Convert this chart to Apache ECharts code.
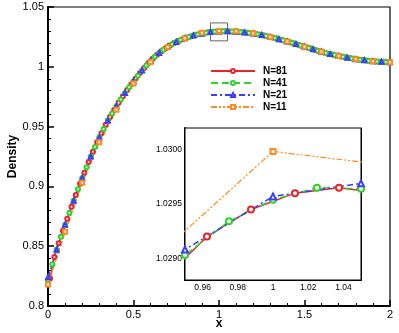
<!DOCTYPE html>
<html>
<head>
<meta charset="utf-8">
<script src="https://cdn.jsdelivr.net/npm/echarts@6/dist/echarts.min.js"></script>
<style>
  html, body { margin: 0; padding: 0; background: #fff; }
  #chart { width: 399px; height: 333px; }
</style>
</head>
<body>
<div id="chart"></div>
<script>
const FONT = 'Liberation Sans, Arial, sans-serif';

const SERIES_NAMES = ['N=81', 'N=41', 'N=21', 'N=11'];
const COLORS = ['#e8252b', '#2ed22e', '#3c3cff', '#ff8a1e'];

// uniform output grids of each run
const X81_START = 0.0125, X81_STEP = 0.025;
const X41_START = 0, X41_STEP = 0.025;
const X21_START = 0, X21_STEP = 0.05;
const X11_START = 0, X11_STEP = 0.1;

const density81 = [
  0.823, 0.841, 0.8525, 0.863, 0.873, 0.883, 0.8928, 0.9023, 0.9115, 0.9205,
  0.929, 0.937, 0.9445, 0.9515, 0.958, 0.964, 0.970, 0.9754, 0.9805, 0.9855,
  0.9903, 0.9948, 0.9991, 1.0031, 1.0067, 1.0100, 1.0129, 1.0156, 1.0179, 1.0199,
  1.0216, 1.0231, 1.0244, 1.0256, 1.0266, 1.0274, 1.0282, 1.0288, 1.0292, 1.02945,
  1.0296, 1.02965, 1.0296, 1.0294, 1.02915, 1.0288, 1.0285, 1.0281, 1.0275, 1.0269,
  1.0261, 1.0253, 1.0245, 1.0236, 1.0226, 1.0216, 1.0206, 1.0195, 1.0185, 1.0174,
  1.0163, 1.0152, 1.0141, 1.0130, 1.0120, 1.0110, 1.0102, 1.0094, 1.0086, 1.0079,
  1.0073, 1.0067, 1.0061, 1.0056, 1.0052, 1.0048, 1.0045, 1.0043, 1.0041, 1.0039
];

const density41 = [
  0.822, 0.835, 0.847, 0.858, 0.868, 0.878, 0.888, 0.8976, 0.907, 0.916,
  0.925, 0.933, 0.941, 0.948, 0.955, 0.961, 0.967, 0.9727, 0.978, 0.983,
  0.988, 0.9926, 0.997, 1.0011, 1.005, 1.0084, 1.0115, 1.0143, 1.0168, 1.0189,
  1.0208, 1.0224, 1.0238, 1.0250, 1.0261, 1.0270, 1.0277, 1.0284, 1.02903, 1.02934,
  1.02954, 1.02965, 1.02964, 1.0295, 1.0293, 1.0290, 1.0287, 1.0283, 1.0278, 1.0272,
  1.0265, 1.0257, 1.0249, 1.0240, 1.0231, 1.0221, 1.0211, 1.0201, 1.0190, 1.0179,
  1.0168, 1.0157, 1.0146, 1.0135, 1.0125, 1.0115, 1.0106, 1.0098, 1.0090, 1.0083,
  1.0076, 1.0070, 1.0064, 1.0059, 1.0054, 1.0050, 1.0047, 1.0044, 1.0042, 1.0040,
  1.0039
];

const density21 = [
  0.824, 0.847, 0.868, 0.888, 0.907, 0.925, 0.941, 0.955, 0.967, 0.978,
  0.988, 0.997, 1.005, 1.0115, 1.0168, 1.0208, 1.0238, 1.0261, 1.0277, 1.02908,
  1.02957, 1.02969, 1.0293, 1.0287, 1.0278, 1.0265, 1.0249, 1.0231, 1.0211, 1.0190,
  1.0168, 1.0146, 1.0125, 1.0106, 1.0090, 1.0076, 1.0064, 1.0054, 1.0047, 1.0042,
  1.0039
];

const density11 = [
  0.818, 0.862, 0.903, 0.937, 0.964, 0.986, 1.004, 1.0165, 1.0238, 1.02852,
  1.029984, 1.02979, 1.0281, 1.0250, 1.0211, 1.0168, 1.0125, 1.0090, 1.0064, 1.0047,
  1.0039
];

// zoom window shown in the inset
const ZOOM_X = [0.95, 1.05];
const ZOOM_BOX_Y = [1.0217, 1.0367];
const INSET_Y = [1.0288, 1.0302];

function pairs(start, step, values) {
  return values.map((v, i) => [+(start + i * step).toFixed(4), v]);
}

const runs = [
  { data: pairs(X81_START, X81_STEP, density81), symbol: 'emptyCircle', dash: 'solid' },
  { data: pairs(X41_START, X41_STEP, density41), symbol: 'emptyCircle', dash: [7, 4] },
  { data: pairs(X21_START, X21_STEP, density21), symbol: 'emptyTriangle', dash: [6, 3, 2, 3] },
  { data: pairs(X11_START, X11_STEP, density11), symbol: 'emptyRect', dash: [6, 2, 2, 2, 2, 2] },
];

const axisText = { color: '#000', fontFamily: FONT };

const series = [];
runs.forEach((r, i) => {
  series.push({
    name: SERIES_NAMES[i],
    type: 'line',
    xAxisIndex: 0,
    yAxisIndex: 0,
    data: r.data,
    symbol: r.symbol,
    symbolSize: 4,
    showAllSymbol: true,
    color: COLORS[i],
    lineStyle: { width: 1.5, type: r.dash },
    itemStyle: { borderWidth: 1 },
    animation: false,
    markArea: i === 0 ? {
      silent: true,
      itemStyle: { color: 'rgba(0,0,0,0)', borderColor: '#666', borderWidth: 1 },
      data: [[{ coord: [ZOOM_X[0], ZOOM_BOX_Y[1]] }, { coord: [ZOOM_X[1], ZOOM_BOX_Y[0]] }]],
    } : undefined,
  });
});
runs.forEach((r, i) => {
  series.push({
    name: SERIES_NAMES[i],
    type: 'line',
    xAxisIndex: 2,
    yAxisIndex: 2,
    data: r.data,
    symbol: r.symbol,
    symbolSize: i === 3 ? 5 : 6,
    showAllSymbol: true,
    clip: true,
    color: COLORS[i],
    lineStyle: { width: i === 3 ? 1.2 : 1.5, type: r.dash },
    itemStyle: { borderWidth: 1.2 },
    animation: false,
    z: 5,
  });
});

const chart = echarts.init(document.getElementById('chart'), null, { renderer: 'canvas' });
chart.setOption({
  backgroundColor: '#fff',
  animation: false,
  legend: {
    data: SERIES_NAMES,
    orient: 'vertical',
    left: 210,
    top: 65,
    padding: 0,
    itemWidth: 44,
    itemHeight: 5,
    itemGap: 0,
    textStyle: { fontFamily: FONT, fontWeight: 'bold', fontSize: 10, lineHeight: 12, height: 12, color: '#000', padding: [0, 0, 0, 3] },
  },
  grid: [
    { left: 48, top: 7, right: 9, bottom: 27, outerBoundsMode: 'none', containLabel: false,
      show: true, borderColor: '#000', borderWidth: 1.2 },
    { left: 185, top: 128, width: 176, height: 152, outerBoundsMode: 'none', containLabel: false,
      show: true, backgroundColor: '#fff', borderColor: '#000', borderWidth: 1, z: 4 },
  ],
  xAxis: [
    {
      gridIndex: 0, type: 'value', min: 0, max: 2, interval: 0.5,
      name: 'x', nameLocation: 'middle', nameGap: 12, nameMoveOverlap: false,
      nameTextStyle: { fontFamily: FONT, fontWeight: 'bold', fontSize: 12, color: '#000' },
      axisLine: { onZero: false, lineStyle: { color: '#000', width: 2 } },
      axisTick: { inside: true, length: 6, lineStyle: { color: '#000', width: 1.5 } },
      minorTick: { show: true, splitNumber: 5, length: 3, lineStyle: { color: '#000' } },
      axisLabel: { ...axisText, fontSize: 11, margin: 3 },
      splitLine: { show: false },
    },
    {
      gridIndex: 1, type: 'value', min: ZOOM_X[0], max: ZOOM_X[1], interval: 0.01, position: 'top',
      axisLine: { onZero: false, lineStyle: { color: '#000', width: 1 } },
      axisTick: { inside: true, length: 3, lineStyle: { color: '#000' } },
      axisLabel: { show: false },
      splitLine: { show: false },
    },
    {
      gridIndex: 1, type: 'value', min: ZOOM_X[0], max: ZOOM_X[1], interval: 0.01, position: 'bottom',
      axisLine: { onZero: false, lineStyle: { color: '#000', width: 2 } },
      axisTick: { inside: true, length: 3, lineStyle: { color: '#000' } },
      axisLabel: {
        ...axisText, fontSize: 8.5, margin: 3, showMinLabel: false, showMaxLabel: false,
        formatter: (v) => (Math.round(v * 100) % 2 === 0 ? String(+v.toFixed(2)) : ''),
      },
      splitLine: { show: false },
    },
  ],
  yAxis: [
    {
      gridIndex: 0, type: 'value', min: 0.8, max: 1.05, interval: 0.05,
      name: 'Density', nameLocation: 'middle', nameGap: 29, nameMoveOverlap: false,
      nameTextStyle: { fontFamily: FONT, fontWeight: 'bold', fontSize: 12, color: '#000' },
      axisLine: { onZero: false, lineStyle: { color: '#000', width: 2 } },
      axisTick: { inside: true, length: 6, lineStyle: { color: '#000', width: 1.5 } },
      minorTick: { show: true, splitNumber: 5, length: 3, lineStyle: { color: '#000' } },
      axisLabel: { ...axisText, fontSize: 11, margin: 4 },
      splitLine: { show: false },
    },
    {
      gridIndex: 1, type: 'value', min: INSET_Y[0], max: INSET_Y[1], interval: 0.0001, position: 'right',
      axisLine: { onZero: false, lineStyle: { color: '#000', width: 1 } },
      axisTick: { inside: true, length: 3, lineStyle: { color: '#000' } },
      axisLabel: { show: false },
      splitLine: { show: false },
    },
    {
      gridIndex: 1, type: 'value', min: INSET_Y[0], max: INSET_Y[1], interval: 0.0001, position: 'left',
      axisLine: { onZero: false, lineStyle: { color: '#000', width: 2 } },
      axisTick: { inside: true, length: 3, lineStyle: { color: '#000' } },
      axisLabel: {
        ...axisText, fontSize: 8.5, margin: 3,
        formatter: (v) => (Math.round(v * 10000) % 5 === 0 ? v.toFixed(4) : ''),
      },
      splitLine: { show: false },
    },
  ],
  series: series,
});
</script>
</body>
</html>
